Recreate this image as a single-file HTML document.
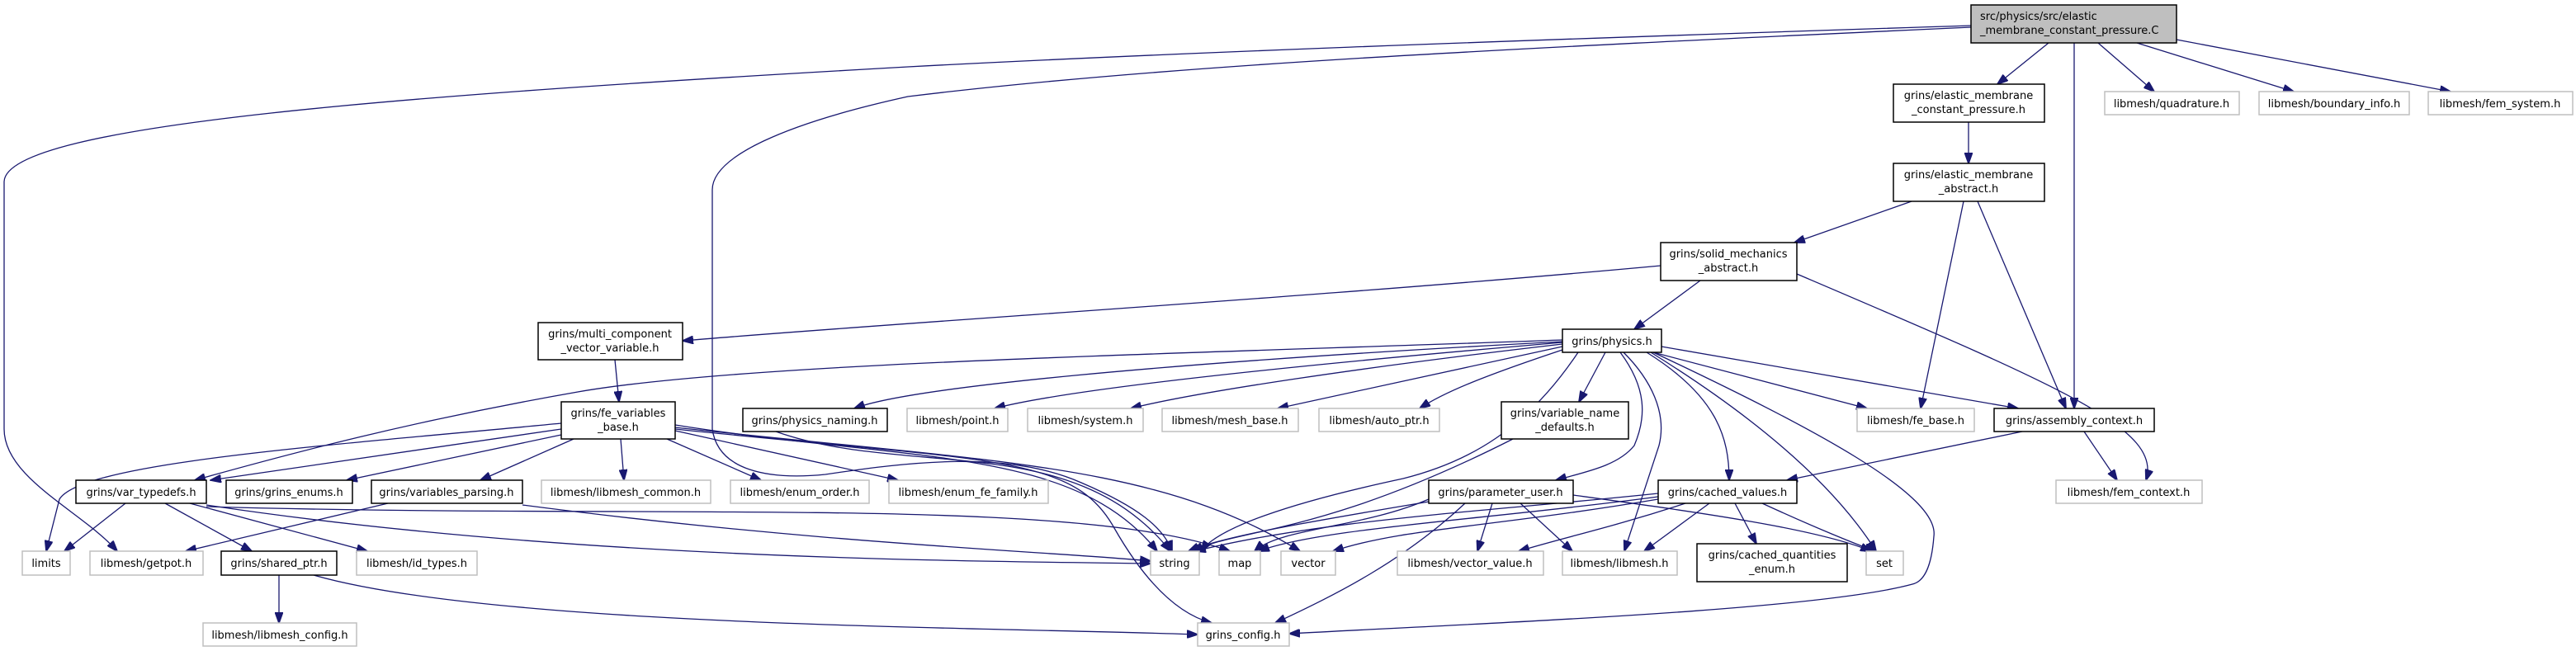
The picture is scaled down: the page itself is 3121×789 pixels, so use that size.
<!DOCTYPE html>
<html><head><meta charset="utf-8">
<style>
html,body{margin:0;padding:0;background:#fff;}
svg{display:block;}
text{font-family:"DejaVu Sans","Liberation Sans",sans-serif;font-size:13px;fill:#000;}
.b{fill:#fff;stroke:#000;stroke-width:1.5;}
.g{fill:#fff;stroke:#bfbfbf;stroke-width:1.5;}
.r{fill:#bfbfbf;stroke:#000;stroke-width:1.5;}
path.e{fill:none;stroke:#191970;stroke-width:1.3;marker-end:url(#a);}
</style></head><body>
<svg width="3121" height="789" viewBox="0 0 3121 789" xmlns="http://www.w3.org/2000/svg">
<defs><marker id="a" markerWidth="14" markerHeight="10" refX="13" refY="5" orient="auto" markerUnits="userSpaceOnUse"><path d="M0,0 L14,5 L0,10z" fill="#191970" stroke="#191970"/></marker></defs>

<!-- edges -->
<path class="e" d="M2482,52 L2420,102"/>
<path class="e" d="M2542,52 L2610,111"/>
<path class="e" d="M2589,52 L2779,111"/>
<path class="e" d="M2637,48 L2969,111"/>
<path class="e" d="M2513,52 L2513,495"/>
<path class="e" d="M2388,31 C1800,50 1400,65 1100,81 C500,115 8,150 5,220 L5,520 C5,580 100,620 142,668"/>
<path class="e" d="M2388,33 C1800,60 1400,80 1100,117 C950,150 863,190 863,230 L863,520 C870,570 930,582 1000,575 C1100,560 1220,545 1310,585 C1380,615 1410,640 1420,668"/>
<path class="e" d="M2385,148 L2385,198"/>
<path class="e" d="M2316,244 L2174,294"/>
<path class="e" d="M2379,244 L2327,495"/>
<path class="e" d="M2396,244 L2503,495"/>
<path class="e" d="M2012,322 C1600,360 1100,390 827,413"/>
<path class="e" d="M2060,340 L1980,399"/>
<path class="e" d="M2177,332 C2500,470 2620,520 2600,582"/>
<path class="e" d="M745,436 L750,487"/>
<path class="e" d="M1893,412 C1400,430 900,440 700,475 C500,510 350,550 236,582"/>
<path class="e" d="M1893,414 C1400,440 1100,470 1035,495"/>
<path class="e" d="M1893,415 C1600,440 1300,470 1205,495"/>
<path class="e" d="M1893,417 C1650,445 1450,475 1370,495"/>
<path class="e" d="M1893,420 C1750,450 1620,480 1548,495"/>
<path class="e" d="M1893,424 C1800,455 1750,475 1720,495"/>
<path class="e" d="M1945,427 L1913,487"/>
<path class="e" d="M1912,427 C1850,520 1780,560 1700,580 C1560,610 1475,640 1455,668"/>
<path class="e" d="M1963,427 C1995,470 1995,505 1980,540 C1960,565 1920,572 1885,582"/>
<path class="e" d="M1967,427 C2000,460 2020,500 2010,540 L1968,668"/>
<path class="e" d="M1995,427 C2080,480 2095,530 2095,582"/>
<path class="e" d="M2000,427 C2150,520 2230,600 2273,668"/>
<path class="e" d="M2003,427 C2200,520 2350,600 2343,650 C2340,690 2330,705 2317,708 C2200,740 1800,755 1562,768"/>
<path class="e" d="M2003,427 L2262,495"/>
<path class="e" d="M2013,420 L2445,495"/>
<path class="e" d="M680,513 C400,540 100,560 72,605 L56,668"/>
<path class="e" d="M680,520 L255,582"/>
<path class="e" d="M680,527 L420,582"/>
<path class="e" d="M695,532 L582,582"/>
<path class="e" d="M752,532 L756,582"/>
<path class="e" d="M808,532 L922,582"/>
<path class="e" d="M818,522 L1088,582"/>
<path class="e" d="M818,515 C1100,560 1300,540 1402,668"/>
<path class="e" d="M818,520 C1200,560 1300,550 1350,640 C1390,710 1430,745 1468,755"/>
<path class="e" d="M818,518 C1200,560 1400,560 1575,668"/>
<path class="e" d="M152,610 L78,668"/>
<path class="e" d="M200,610 L305,668"/>
<path class="e" d="M230,610 L445,668"/>
<path class="e" d="M250,614 C800,630 1300,600 1490,668"/>
<path class="e" d="M250,612 C700,680 1200,680 1394,683"/>
<path class="e" d="M470,610 L225,668"/>
<path class="e" d="M633,612 C1000,660 1300,670 1394,680"/>
<path class="e" d="M338,697 L338,755"/>
<path class="e" d="M380,697 C600,760 1200,760 1451,769"/>
<path class="e" d="M940,523 C1100,580 1300,520 1418,668"/>
<path class="e" d="M1833,532 C1600,650 1500,640 1445,668"/>
<path class="e" d="M1731,608 C1600,630 1480,650 1440,668"/>
<path class="e" d="M1731,605 C1650,640 1550,640 1520,668"/>
<path class="e" d="M1775,610 C1700,680 1620,720 1545,755"/>
<path class="e" d="M1808,610 L1790,668"/>
<path class="e" d="M1842,610 L1905,668"/>
<path class="e" d="M1906,600 C2050,620 2200,640 2267,668"/>
<path class="e" d="M2009,598 C1800,620 1600,630 1448,668"/>
<path class="e" d="M2009,602 C1800,630 1600,640 1525,668"/>
<path class="e" d="M2009,605 C1800,640 1700,640 1615,668"/>
<path class="e" d="M2042,610 C1950,640 1900,650 1840,668"/>
<path class="e" d="M2071,610 L1992,668"/>
<path class="e" d="M2102,610 L2128,659"/>
<path class="e" d="M2135,610 C2200,640 2250,660 2272,668"/>
<path class="e" d="M2450,523 L2165,582"/>
<path class="e" d="M2525,523 L2565,582"/>

<!-- nodes -->
<rect class="r" x="2388" y="6" width="249" height="46"/>
<text x="2399" y="24">src/physics/src/elastic</text>
<text x="2399" y="41">_membrane_constant_pressure.C</text>

<rect class="b" x="2294" y="102" width="183" height="46"/>
<text x="2385" y="120" text-anchor="middle">grins/elastic_membrane</text>
<text x="2385" y="137" text-anchor="middle">_constant_pressure.h</text>

<rect class="b" x="2294" y="198" width="183" height="46"/>
<text x="2385" y="216" text-anchor="middle">grins/elastic_membrane</text>
<text x="2385" y="233" text-anchor="middle">_abstract.h</text>

<rect class="b" x="2012" y="294" width="165" height="46"/>
<text x="2094" y="312" text-anchor="middle">grins/solid_mechanics</text>
<text x="2094" y="329" text-anchor="middle">_abstract.h</text>

<rect class="g" x="2550" y="111" width="163" height="28"/><text x="2631" y="130" text-anchor="middle">libmesh/quadrature.h</text>
<rect class="g" x="2737" y="111" width="182" height="28"/><text x="2828" y="130" text-anchor="middle">libmesh/boundary_info.h</text>
<rect class="g" x="2942" y="111" width="175" height="28"/><text x="3029" y="130" text-anchor="middle">libmesh/fem_system.h</text>

<rect class="b" x="652" y="391" width="175" height="45"/>
<text x="739" y="409" text-anchor="middle">grins/multi_component</text>
<text x="739" y="426" text-anchor="middle">_vector_variable.h</text>

<rect class="b" x="1893" y="399" width="120" height="28"/><text x="1953" y="418" text-anchor="middle">grins/physics.h</text>

<rect class="b" x="680" y="487" width="138" height="45"/>
<text x="749" y="505" text-anchor="middle">grins/fe_variables</text>
<text x="749" y="522" text-anchor="middle">_base.h</text>

<rect class="b" x="900" y="495" width="175" height="28"/><text x="987" y="514" text-anchor="middle">grins/physics_naming.h</text>
<rect class="g" x="1099" y="495" width="122" height="28"/><text x="1160" y="514" text-anchor="middle">libmesh/point.h</text>
<rect class="g" x="1245" y="495" width="140" height="28"/><text x="1315" y="514" text-anchor="middle">libmesh/system.h</text>
<rect class="g" x="1408" y="495" width="165" height="28"/><text x="1490" y="514" text-anchor="middle">libmesh/mesh_base.h</text>
<rect class="g" x="1598" y="495" width="146" height="28"/><text x="1671" y="514" text-anchor="middle">libmesh/auto_ptr.h</text>

<rect class="b" x="1819" y="487" width="154" height="45"/>
<text x="1896" y="505" text-anchor="middle">grins/variable_name</text>
<text x="1896" y="522" text-anchor="middle">_defaults.h</text>

<rect class="g" x="2250" y="495" width="142" height="28"/><text x="2321" y="514" text-anchor="middle">libmesh/fe_base.h</text>
<rect class="b" x="2416" y="495" width="194" height="28"/><text x="2513" y="514" text-anchor="middle">grins/assembly_context.h</text>

<rect class="b" x="92" y="582" width="158" height="28"/><text x="171" y="601" text-anchor="middle">grins/var_typedefs.h</text>
<rect class="b" x="274" y="582" width="153" height="28"/><text x="350" y="601" text-anchor="middle">grins/grins_enums.h</text>
<rect class="b" x="450" y="582" width="183" height="28"/><text x="541" y="601" text-anchor="middle">grins/variables_parsing.h</text>
<rect class="g" x="656" y="582" width="205" height="28"/><text x="758" y="601" text-anchor="middle">libmesh/libmesh_common.h</text>
<rect class="g" x="885" y="582" width="168" height="28"/><text x="969" y="601" text-anchor="middle">libmesh/enum_order.h</text>
<rect class="g" x="1077" y="582" width="193" height="28"/><text x="1173" y="601" text-anchor="middle">libmesh/enum_fe_family.h</text>
<rect class="b" x="1731" y="582" width="175" height="28"/><text x="1818" y="601" text-anchor="middle">grins/parameter_user.h</text>
<rect class="b" x="2009" y="582" width="168" height="28"/><text x="2093" y="601" text-anchor="middle">grins/cached_values.h</text>
<rect class="g" x="2491" y="582" width="177" height="28"/><text x="2579" y="601" text-anchor="middle">libmesh/fem_context.h</text>

<rect class="g" x="27" y="668" width="58" height="29"/><text x="56" y="687" text-anchor="middle">limits</text>
<rect class="g" x="109" y="668" width="137" height="29"/><text x="177" y="687" text-anchor="middle">libmesh/getpot.h</text>
<rect class="b" x="268" y="668" width="140" height="29"/><text x="338" y="687" text-anchor="middle">grins/shared_ptr.h</text>
<rect class="g" x="432" y="668" width="146" height="29"/><text x="505" y="687" text-anchor="middle">libmesh/id_types.h</text>
<rect class="g" x="1394" y="668" width="59" height="29"/><text x="1423" y="687" text-anchor="middle">string</text>
<rect class="g" x="1477" y="668" width="50" height="29"/><text x="1502" y="687" text-anchor="middle">map</text>
<rect class="g" x="1552" y="668" width="66" height="29"/><text x="1585" y="687" text-anchor="middle">vector</text>
<rect class="g" x="1693" y="668" width="177" height="29"/><text x="1781" y="687" text-anchor="middle">libmesh/vector_value.h</text>
<rect class="g" x="1893" y="668" width="139" height="29"/><text x="1962" y="687" text-anchor="middle">libmesh/libmesh.h</text>
<rect class="b" x="2056" y="659" width="182" height="46"/>
<text x="2147" y="677" text-anchor="middle">grins/cached_quantities</text>
<text x="2147" y="694" text-anchor="middle">_enum.h</text>
<rect class="g" x="2261" y="668" width="45" height="29"/><text x="2283" y="687" text-anchor="middle">set</text>

<rect class="g" x="246" y="755" width="186" height="28"/><text x="339" y="774" text-anchor="middle">libmesh/libmesh_config.h</text>
<rect class="g" x="1451" y="755" width="111" height="28"/><text x="1506" y="774" text-anchor="middle">grins_config.h</text>
</svg>
</body></html>
